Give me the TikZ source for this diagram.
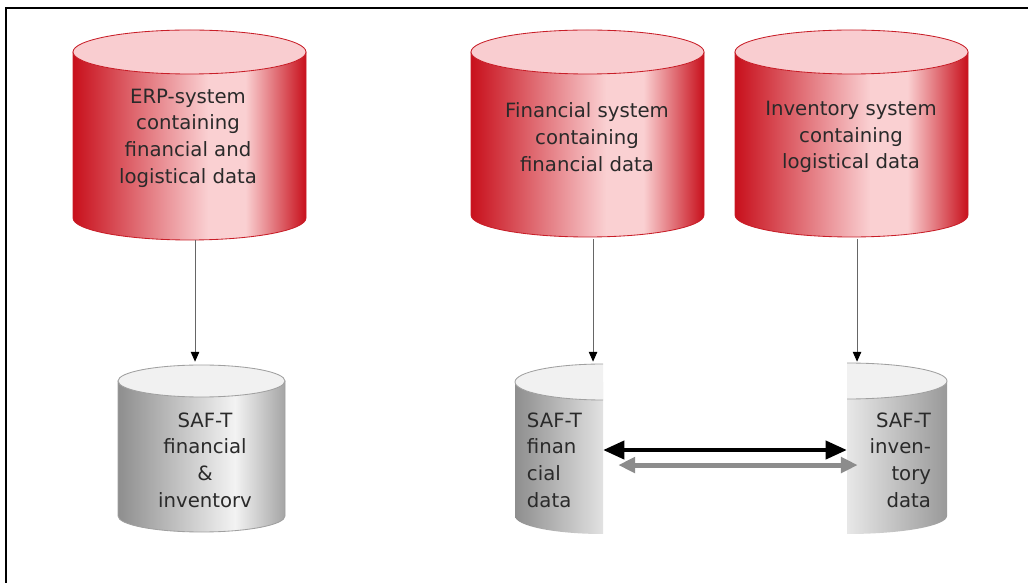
\documentclass[tikz,border=0pt]{standalone}
\usepackage{fontspec}
\setmainfont{DejaVu Sans}
\usetikzlibrary{arrows.meta,positioning}

\definecolor{cylred}{HTML}{C8101C}
\definecolor{cylpink}{HTML}{FAD0D2}
\definecolor{redtop}{HTML}{F9CDD0}
\definecolor{redline}{HTML}{C81E28}
\definecolor{cylgray}{HTML}{8E8E8E}
\definecolor{cyllight}{HTML}{F3F3F3}
\definecolor{graytop}{HTML}{F1F1F1}
\definecolor{grayline}{HTML}{A0A0A0}
\definecolor{txt}{HTML}{2A2A2A}

\pgfdeclarehorizontalshading{redshade}{100bp}{color(0bp)=(cylred); color(25bp)=(cylred); color(54bp)=(cylpink); color(62bp)=(cylpink); color(75bp)=(cylred); color(100bp)=(cylred)}
\pgfdeclarehorizontalshading{grayshade}{100bp}{color(0bp)=(cylgray); color(25bp)=(cylgray); color(60bp)=(cyllight); color(75bp)=(cylgray!80); color(100bp)=(cylgray!80)}
\pgfdeclarehorizontalshading{grayleft}{100bp}{color(0bp)=(cylgray); color(25bp)=(cylgray); color(75bp)=(cyllight!85!gray); color(100bp)=(cyllight!85!gray)}
\pgfdeclarehorizontalshading{grayright}{100bp}{color(0bp)=(cyllight!90!gray); color(25bp)=(cyllight!90!gray); color(75bp)=(cylgray!90); color(100bp)=(cylgray!90)}

% cylinder: centre x, top y, bottom y, x radius, y radius, look
\newcommand{\drum}[6]{%
  \path[#6body] (#1-#4,#2) -- (#1-#4,#3) arc[start angle=180,end angle=0,x radius=#4,y radius=#5] -- (#1+#4,#2) -- cycle;
  \path[#6top] (#1,#2) ellipse[x radius=#4,y radius=#5];}

\begin{document}
\begin{tikzpicture}[x=0.025cm, y=-0.025cm,
    redbody/.style={shading=redshade, draw=redline, line width=0.6pt},
    redtop/.style={fill=redtop, draw=redline, line width=0.6pt},
    graybody/.style={shading=grayshade, draw=grayline, line width=0.6pt},
    graytop/.style={fill=graytop, draw=grayline, line width=0.6pt},
    lbl/.style={text=txt, align=center, inner sep=0pt, font=\fontsize{14}{19}\selectfont},
    feed/.style={draw=black!60, line width=0.7pt, -{Triangle[length=7pt,width=6pt,color=black]}},
    link/.style={line width=2.4pt, {Triangle[length=15pt,width=13pt]}-{Triangle[length=15pt,width=13pt]}},
    echo/.style={draw=black!45, line width=3.6pt, {Triangle[length=12pt,width=11pt]}-{Triangle[length=12pt,width=11pt]}}]
  \useasboundingbox (0,0) rectangle (1028,583);
  \draw[line width=1.4pt] (6,583) -- (6,8) -- (1028,8);

  % source systems
  \drum{189.5}{52}{218}{116.5}{22}{red}
  \drum{587.5}{52}{215}{116.5}{22}{red}
  \drum{851.5}{52}{215}{116.5}{22}{red}
  % SAF-T files
  \drum{201.5}{381}{516}{83.5}{16}{gray}
  \path[shading=grayleft] (515,382) -- (515,516) arc[start angle=180,end angle=90,x radius=88,y radius=18] -- (603,382) -- cycle;
  \path[fill=graytop] (603,364) arc[start angle=270,end angle=90,x radius=88,y radius=18] -- cycle;
  \draw[grayline, line width=0.6pt] (603,364) arc[start angle=270,end angle=90,x radius=88,y radius=18];
  \path[shading=grayright] (947,381) -- (947,516) arc[start angle=0,end angle=90,x radius=100,y radius=18] -- (847,381) -- cycle;
  \path[fill=graytop] (847,363) arc[start angle=-90,end angle=90,x radius=100,y radius=18] -- cycle;
  \draw[grayline, line width=0.6pt] (847,363) arc[start angle=-90,end angle=90,x radius=100,y radius=18];

  \node[lbl, minimum height=5.1cm] (erp) at (188,138) {ERP-system\\containing\\financial and\\logistical data};
  \node[lbl, minimum height=5.1cm] (fin) at (587,137) {Financial system\\containing\\financial data};
  \node[lbl, minimum height=5.1cm] (inv) at (851,137) {Inventory system\\containing\\logistical data};
  \node[lbl, minimum height=4.9cm] (saf) at (205,460) {SAF-T\\financial\\\&\\inventorv};
  \node[lbl, align=left, text width=1.6cm, inner xsep=0.3cm, minimum height=4.9cm] (saffin) at (559,460) {SAF-T\\finan\\cial\\data};
  \node[lbl, align=right, text width=1.7cm, inner xsep=0.4cm, minimum height=4.9cm] (safinv) at (897,460) {SAF-T\\inven-\\tory\\data};

  \draw[feed] ([xshift=5pt]erp.south) -- ([xshift=5pt]erp.south |- saf.north);
  \draw[feed] ([xshift=4.3pt]fin.south) -- ([xshift=4.3pt]fin.south |- saffin.north);
  \draw[feed] ([xshift=4.3pt]inv.south) -- ([xshift=4.3pt]inv.south |- safinv.north);
  \draw[echo] ([xshift=10.7pt,yshift=-3.6pt]saffin.east) -- ([xshift=7.8pt,yshift=-3.6pt]safinv.west);
  \draw[link] ([yshift=7.1pt]saffin.east) -- ([yshift=7.1pt]safinv.west);
\end{tikzpicture}
\end{document}
